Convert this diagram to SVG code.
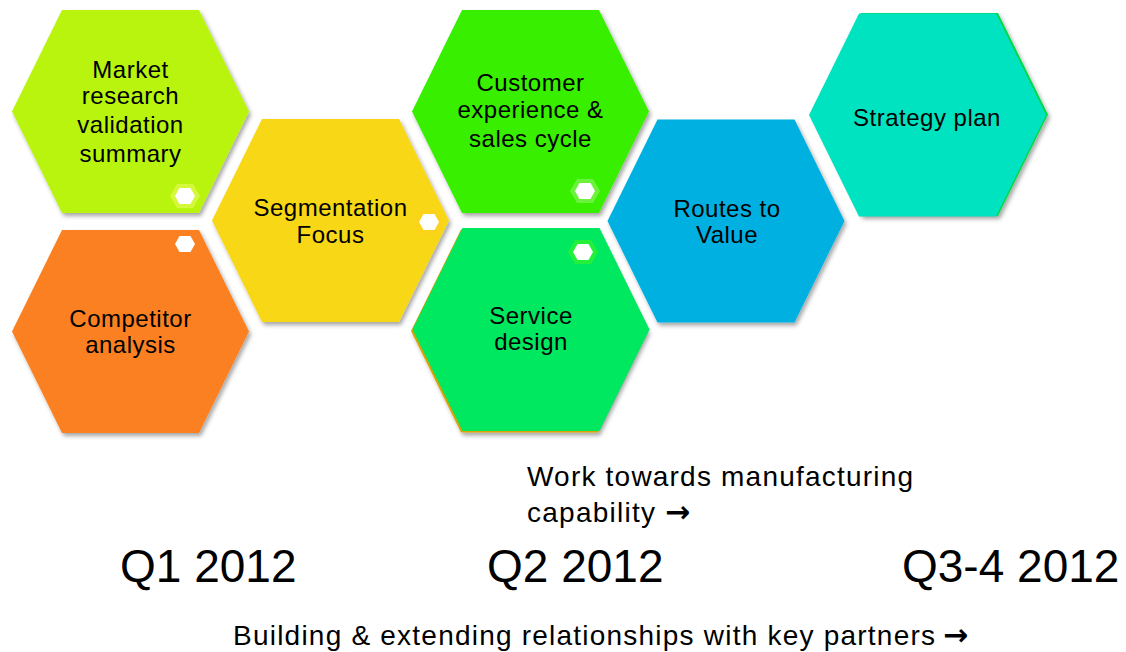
<svg xmlns="http://www.w3.org/2000/svg" xmlns:xlink="http://www.w3.org/1999/xlink" width="1126" height="652" viewBox="0 0 1126 652">
  <defs>
    <polygon id="hex" points="-118.5,0 -68.5,-101.5 68.5,-101.5 118.5,0 68.5,101.5 -68.5,101.5"/>
    <polygon id="mini" points="-10,0 -5.5,-8 5.5,-8 10,0 5.5,8 -5.5,8"/>
    <polygon id="ring" points="-15,0 -8,-12 8,-12 15,0 8,12 -8,12"/>
    <filter id="shadow" x="-10%" y="-10%" width="125%" height="125%">
      <feDropShadow dx="2" dy="3" stdDeviation="2.2" flood-color="#000" flood-opacity="0.35"/>
    </filter>
  </defs>
  <style>
    .lbl { font-family: "Liberation Sans", Arial, sans-serif; font-size: 24px; letter-spacing: 0.5px; fill: #000; text-anchor: middle; }
    .big { font-family: "Liberation Sans", Arial, sans-serif; font-size: 46px; fill: #000; }
    .note { font-family: "Liberation Sans", Arial, sans-serif; font-size: 28px; fill: #000; }
    .arrow { font-family: "DejaVu Sans", sans-serif; font-size: 30px; font-weight: bold; }
    .mini { fill: #fff; }
  </style>
  <rect width="1126" height="652" fill="#fff"/>

  <g id="node-market">
    <use xlink:href="#hex" x="130.5" y="111.5" fill="#b8f40a" filter="url(#shadow)"/>
    <use xlink:href="#ring" x="185" y="196" fill="#d6f83c"/>
    <use xlink:href="#mini" x="185" y="196" class="mini"/>
    <text class="lbl" x="130.5" y="78">Market</text>
    <text class="lbl" x="130.5" y="104">research</text>
    <text class="lbl" x="130.5" y="133">validation</text>
    <text class="lbl" x="130.5" y="162">summary</text>
  </g>

  <g id="node-competitor">
    <use xlink:href="#hex" x="130.5" y="331.5" fill="#fb8023" filter="url(#shadow)"/>
    <use xlink:href="#mini" x="185" y="244" class="mini"/>
    <text class="lbl" x="130.5" y="327">Competitor</text>
    <text class="lbl" x="130.5" y="353">analysis</text>
  </g>

  <g id="node-segmentation">
    <use xlink:href="#hex" x="330.5" y="220.5" fill="#f8d716" filter="url(#shadow)"/>
    <use xlink:href="#ring" x="429" y="222" fill="#fcd21a"/>
    <use xlink:href="#mini" x="429" y="222" class="mini"/>
    <text class="lbl" x="330.5" y="216">Segmentation</text>
    <text class="lbl" x="330.5" y="243">Focus</text>
  </g>

  <g id="node-customer">
    <use xlink:href="#hex" x="530.5" y="111.5" fill="#38ef06" filter="url(#shadow)"/>
    <use xlink:href="#ring" x="585" y="191" fill="#6cf23c"/>
    <use xlink:href="#mini" x="585" y="191" class="mini"/>
    <text class="lbl" x="530.5" y="91">Customer</text>
    <text class="lbl" x="530.5" y="118">experience &amp;</text>
    <text class="lbl" x="530.5" y="147">sales cycle</text>
  </g>

  <g id="node-service">
    <use xlink:href="#hex" x="529.5" y="331" fill="#d9a300" filter="url(#shadow)"/>
    <use xlink:href="#hex" x="531" y="329.5" fill="#00e85f"/>
    <use xlink:href="#ring" x="583" y="252" fill="#22f03a"/>
    <use xlink:href="#mini" x="583" y="252" class="mini"/>
    <text class="lbl" x="531" y="324">Service</text>
    <text class="lbl" x="531" y="350">design</text>
  </g>

  <g id="node-routes">
    <use xlink:href="#hex" x="726" y="221" fill="#00b0e0" filter="url(#shadow)"/>
    <text class="lbl" x="727" y="217">Routes to</text>
    <text class="lbl" x="727" y="243">Value</text>
  </g>

  <g id="node-strategy">
    <use xlink:href="#hex" x="929.5" y="114.5" fill="#00d84a" filter="url(#shadow)"/>
    <use xlink:href="#hex" x="927.5" y="115" fill="#00e3c0"/>
    <text class="lbl" x="927" y="126">Strategy plan</text>
  </g>

  <g id="connectors"></g>

  <g id="labels">
    <text class="note" x="527" y="486" textLength="386" lengthAdjust="spacing">Work towards manufacturing</text>
    <text class="note" x="527" y="522" textLength="128" lengthAdjust="spacing">capability</text>
    <text class="note arrow" x="665" y="522">→</text>
    <text class="big" x="120" y="582">Q1 2012</text>
    <text class="big" x="487" y="582">Q2 2012</text>
    <text class="big" x="902" y="582">Q3-4 2012</text>
    <text class="note" x="233" y="645" textLength="702" lengthAdjust="spacing">Building &amp; extending relationships with key partners</text>
    <text class="note arrow" x="943" y="645">→</text>
  </g>
</svg>
